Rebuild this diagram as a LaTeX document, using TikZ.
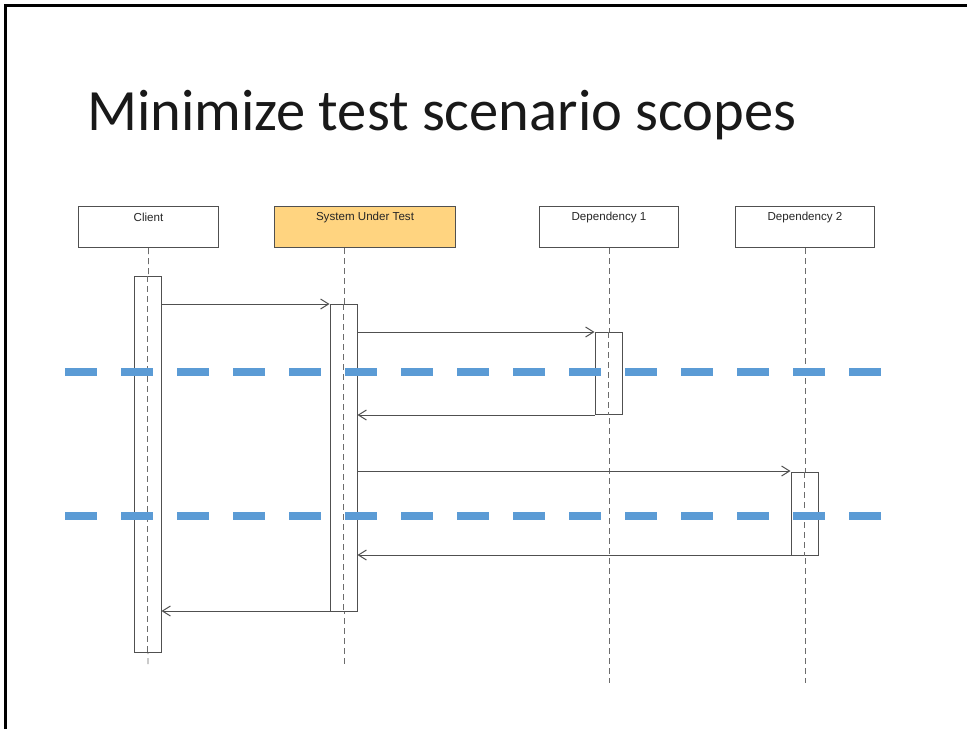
\documentclass[tikz,border=0pt]{standalone}
\usepackage{fontspec}
\setmainfont{Carlito}
\newfontfamily\arialf{Liberation Sans}
\usetikzlibrary{arrows.meta}
\definecolor{sutfill}{RGB}{255,212,128}
\definecolor{scopeblue}{RGB}{91,155,213}
\definecolor{linegray}{RGB}{80,80,80}
\tikzset{
  header/.style={draw=linegray, line width=1pt, minimum height=41pt, anchor=north west,
    inner sep=0pt},
  hlabel/.style={anchor=center, inner sep=0pt, font=\arialf\fontsize{11.6}{12}\selectfont, text=black!85},
  life/.style={draw=gray!85!black, line width=0.9pt, dash pattern=on 6pt off 4pt},
  act/.style={draw=linegray, fill=white, line width=1pt, minimum width=27pt, anchor=north, inner sep=0pt},
  msg/.style={draw=linegray, line width=1pt, -{Straight Barb[length=8pt,width=10pt,line width=1pt]}},
  scopeline/.style={draw=scopeblue, line width=8pt, dash pattern=on 32pt off 24pt}
}
\begin{document}
\begin{tikzpicture}[x=1pt,y=-1pt]
\useasboundingbox (0,0) rectangle (967,729);
\fill[white] (0,0) rectangle (967,729);
\draw[line width=3pt] (5.5,729) -- (5.5,5.5) -- (967,5.5);

\node[anchor=base west, inner sep=0pt, font=\fontsize{58.5}{60}\selectfont, text=black!90] (title) at (87,130) {Minimize test scenario scopes};

% headers
\node[header, minimum width=140pt] (client) at (78,206) {};
\node[header, minimum width=181pt, fill=sutfill] (sut) at (274,206) {};
\node[header, minimum width=139pt] (dep1) at (539,206) {};
\node[header, minimum width=139pt] (dep2) at (735,206) {};
\node[hlabel] (lclient) at ([yshift=-11.5pt]client.north) {Client};
\node[hlabel] (lsut) at ([yshift=-11.5pt]sut.north) {System Under Test};
\node[hlabel] (ldep1) at ([yshift=-11.5pt]dep1.north) {Dependency 1};
\node[hlabel] (ldep2) at ([yshift=-11.5pt]dep2.north) {Dependency 2};

% lifeline ends
\coordinate (eclient) at (148,667);
\coordinate (esut) at (344,667);
\coordinate (edep1) at (609,683);
\coordinate (edep2) at (805,683);
\draw[life] (client.south) -- (eclient);
\draw[life] (sut.south -| esut) -- (esut);
\draw[life] (dep1.south) -- (edep1);
\draw[life] (dep2.south) -- (edep2);

% activations
\node[act, minimum height=376pt] (aclient) at (147.5,276) {};
\node[act, minimum height=307pt] (asut) at (343.5,304) {};
\node[act, minimum height=82pt] (adep1) at (608.5,332) {};
\node[act, minimum height=83pt] (adep2) at (804.5,472) {};
\draw[life] (aclient.north) -- (aclient.south);
\draw[life] (asut.north) -- (asut.south);
\draw[life] (adep1.north) -- (adep1.south);
\draw[life] (adep2.north) -- (adep2.south);

% messages
\coordinate (m1) at (0,304);
\coordinate (m2) at (0,332);
\coordinate (m3) at (0,415);
\coordinate (m4) at (0,471);
\coordinate (m5) at (0,555);
\coordinate (m6) at (0,611);
\draw[msg] (aclient.east |- m1) -- (asut.west |- m1);
\draw[msg] (asut.east |- m2) -- (adep1.west |- m2);
\draw[msg] (adep1.west |- m3) -- (asut.east |- m3);
\draw[msg] (asut.east |- m4) -- (adep2.west |- m4);
\draw[msg] (adep2.west |- m5) -- (asut.east |- m5);
\draw[msg] (asut.west |- m6) -- (aclient.east |- m6);

% scope lines
\coordinate (s1a) at (65,372);
\coordinate (s1b) at (883,372);
\coordinate (s2a) at (65,516);
\coordinate (s2b) at (883,516);
\draw[scopeline] (s1a) -- (s1b);
\draw[scopeline] (s2a) -- (s2b);
\end{tikzpicture}
\end{document}
